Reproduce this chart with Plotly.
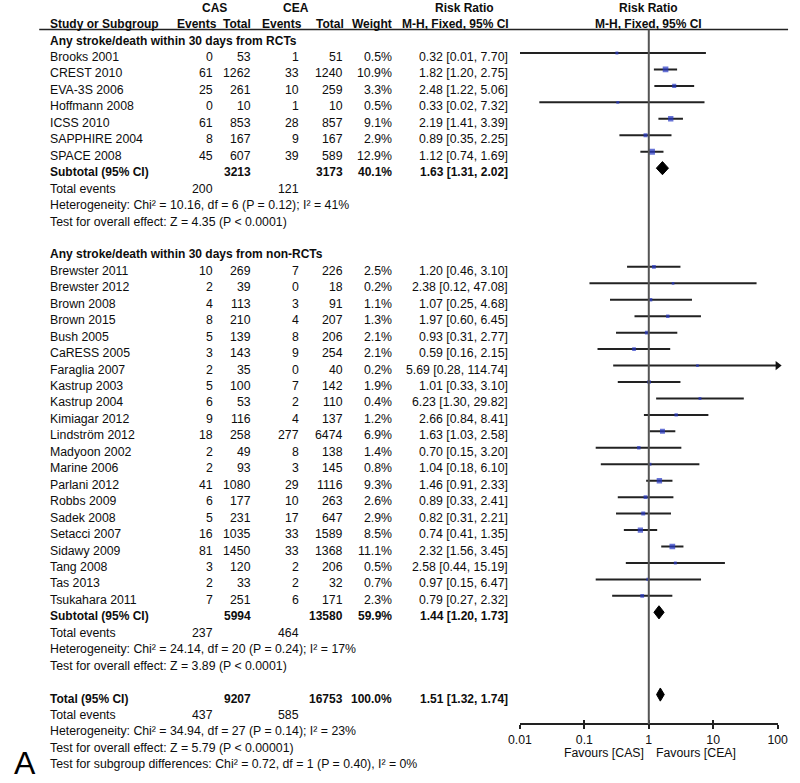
import math
import plotly.graph_objects as go

# ---------------- data ----------------
rct_study = ["Brooks 2001", "CREST 2010", "EVA-3S 2006", "Hoffmann 2008", "ICSS 2010",
             "SAPPHIRE 2004", "SPACE 2008"]
rct_cas_events = [0, 61, 25, 0, 61, 8, 45]
rct_cas_total = [53, 1262, 261, 10, 853, 167, 607]
rct_cea_events = [1, 33, 10, 1, 28, 9, 39]
rct_cea_total = [51, 1240, 259, 10, 857, 167, 589]
rct_weight = [0.5, 10.9, 3.3, 0.5, 9.1, 2.9, 12.9]
rct_rr = [0.32, 1.82, 2.48, 0.33, 2.19, 0.89, 1.12]
rct_lo = [0.01, 1.20, 1.22, 0.02, 1.41, 0.35, 0.74]
rct_hi = [7.70, 2.75, 5.06, 7.32, 3.39, 2.25, 1.69]

non_study = ["Brewster 2011", "Brewster 2012", "Brown 2008", "Brown 2015", "Bush 2005",
             "CaRESS 2005", "Faraglia 2007", "Kastrup 2003", "Kastrup 2004", "Kimiagar 2012",
             "Lindström 2012", "Madyoon 2002", "Marine 2006", "Parlani 2012", "Robbs 2009",
             "Sadek 2008", "Setacci 2007", "Sidawy 2009", "Tang 2008", "Tas 2013",
             "Tsukahara 2011"]
non_cas_events = [10, 2, 4, 8, 5, 3, 2, 5, 6, 9, 18, 2, 2, 41, 6, 5, 16, 81, 3, 2, 7]
non_cas_total = [269, 39, 113, 210, 139, 143, 35, 100, 53, 116, 258, 49, 93, 1080, 177, 231,
                 1035, 1450, 120, 33, 251]
non_cea_events = [7, 0, 3, 4, 8, 9, 0, 7, 2, 4, 277, 8, 3, 29, 10, 17, 33, 33, 2, 2, 6]
non_cea_total = [226, 18, 91, 207, 206, 254, 40, 142, 110, 137, 6474, 138, 145, 1116, 263, 647,
                 1589, 1368, 206, 32, 171]
non_weight = [2.5, 0.2, 1.1, 1.3, 2.1, 2.1, 0.2, 1.9, 0.4, 1.2, 6.9, 1.4, 0.8, 9.3, 2.6, 2.9,
              8.5, 11.1, 0.5, 0.7, 2.3]
non_rr = [1.20, 2.38, 1.07, 1.97, 0.93, 0.59, 5.69, 1.01, 6.23, 2.66, 1.63, 0.70, 1.04, 1.46,
          0.89, 0.82, 0.74, 2.32, 2.58, 0.97, 0.79]
non_lo = [0.46, 0.12, 0.25, 0.60, 0.31, 0.16, 0.28, 0.33, 1.30, 0.84, 1.03, 0.15, 0.18, 0.91,
          0.33, 0.31, 0.41, 1.56, 0.44, 0.15, 0.27]
non_hi = [3.10, 47.08, 4.68, 6.45, 2.77, 2.15, 114.74, 3.10, 29.82, 8.41, 2.58, 3.20, 6.10, 2.33,
          2.41, 2.21, 1.35, 3.45, 15.19, 6.47, 2.32]

group_headers = ["Any stroke/death within 30 days from RCTs",
                 "Any stroke/death within 30 days from non-RCTs"]
pooled_label = ["Subtotal (95% CI)", "Subtotal (95% CI)", "Total (95% CI)"]
pooled_cas_total = [3213, 5994, 9207]
pooled_cea_total = [3173, 13580, 16753]
pooled_weight = [40.1, 59.9, 100.0]
pooled_rr = [1.63, 1.44, 1.51]
pooled_lo = [1.31, 1.20, 1.32]
pooled_hi = [2.02, 1.73, 1.74]
events_cas = [200, 237, 437]
events_cea = [121, 464, 585]
heterogeneity = ["Heterogeneity: Chi² = 10.16, df = 6 (P = 0.12); I² = 41%",
                 "Heterogeneity: Chi² = 24.14, df = 20 (P = 0.24); I² = 17%",
                 "Heterogeneity: Chi² = 34.94, df = 27 (P = 0.14); I² = 23%"]
overall_effect = ["Test for overall effect: Z = 4.35 (P < 0.0001)",
                  "Test for overall effect: Z = 3.89 (P < 0.0001)",
                  "Test for overall effect: Z = 5.79 (P < 0.00001)"]
subgroup_test = "Test for subgroup differences: Chi² = 0.72, df = 1 (P = 0.40), I² = 0%"
tick_vals = [0.01, 0.1, 1, 10, 100]
tick_text = ["0.01", "0.1", "1", "10", "100"]
favours = ["Favours [CAS]", "Favours [CEA]"]

# ---------------- layout geometry ----------------
W, H = 800, 783
ROW0_PX, ROW_PX = 53.0, 16.45          # pixel y of first study row, row pitch
TEXT_SHIFT = -4                          # text sits slightly below the CI lines
FONT = "Liberation Sans, Arial, sans-serif"
INK = "#0d0d0d"
REG = 12.3
X_NAME, X_CASE, X_CAST, X_CEAE, X_CEAT, X_W, X_RR = 37, 209, 248, 297, 342, 393, 512
AX_LEFT, AX_RIGHT, AX_Y = 522.3, 787.3, 724

def px_to_row(py):
    return (py - ROW0_PX) / ROW_PX

annotations = []

def txt(px, row, s, anchor="right", bold=False, size=None, yref="y", shift=TEXT_SHIFT):
    if size is None:
        size = 12 if bold else REG
    annotations.append(dict(
        x=px / W, xref="paper", y=row, yref=yref, yshift=shift,
        text=("<b>%s</b>" % s) if bold else s, showarrow=False,
        xanchor=anchor, yanchor="middle",
        font=dict(family=FONT, size=size, color=INK)))

# ---------------- build rows ----------------
groups = [
    (rct_study, rct_cas_events, rct_cas_total, rct_cea_events, rct_cea_total, rct_weight,
     rct_rr, rct_lo, rct_hi),
    (non_study, non_cas_events, non_cas_total, non_cea_events, non_cea_total, non_weight,
     non_rr, non_lo, non_hi),
]

study_rows, study_rr, study_lo, study_hi, study_w = [], [], [], [], []
pooled_rows = []
row = -1
for g, (names, ce, ct, ee, et, wt, rr, lo, hi) in enumerate(groups):
    txt(X_NAME, row, group_headers[g], anchor="left", bold=True)
    row += 1
    for i in range(len(names)):
        txt(X_NAME, row, names[i], anchor="left")
        txt(X_CASE, row, str(ce[i]))
        txt(X_CAST, row, str(ct[i]))
        txt(X_CEAE, row, str(ee[i]))
        txt(X_CEAT, row, str(et[i]))
        txt(X_W, row, "%.1f%%" % wt[i])
        txt(X_RR, row, "%.2f [%.2f, %.2f]" % (rr[i], lo[i], hi[i]))
        study_rows.append(row); study_rr.append(rr[i]); study_lo.append(lo[i])
        study_hi.append(hi[i]); study_w.append(wt[i])
        row += 1
    pooled_rows.append(row)
    txt(X_NAME, row, pooled_label[g], anchor="left", bold=True)
    txt(X_CAST, row, str(pooled_cas_total[g]), bold=True)
    txt(X_CEAT, row, str(pooled_cea_total[g]), bold=True)
    txt(X_W, row, "%.1f%%" % pooled_weight[g], bold=True)
    txt(X_RR, row, "%.2f [%.2f, %.2f]" % (pooled_rr[g], pooled_lo[g], pooled_hi[g]), bold=True)
    row += 1
    txt(X_NAME, row, "Total events", anchor="left")
    txt(X_CASE, row, str(events_cas[g]))
    txt(X_CEAE, row, str(events_cea[g]))
    row += 1
    txt(X_NAME, row, heterogeneity[g], anchor="left"); row += 1
    txt(X_NAME, row, overall_effect[g], anchor="left"); row += 2

pooled_rows.append(row)
txt(X_NAME, row, pooled_label[2], anchor="left", bold=True)
txt(X_CAST, row, str(pooled_cas_total[2]), bold=True)
txt(X_CEAT, row, str(pooled_cea_total[2]), bold=True)
txt(X_W, row, "%.1f%%" % pooled_weight[2], bold=True)
txt(X_RR, row, "%.2f [%.2f, %.2f]" % (pooled_rr[2], pooled_lo[2], pooled_hi[2]), bold=True)
row += 1
txt(X_NAME, row, "Total events", anchor="left")
txt(X_CASE, row, str(events_cas[2]))
txt(X_CEAE, row, str(events_cea[2]))
row += 1
txt(X_NAME, row, heterogeneity[2], anchor="left"); row += 1
txt(X_NAME, row, overall_effect[2], anchor="left"); row += 1
txt(X_NAME, row, subgroup_test, anchor="left"); row += 1

# column headers (pixel based)
r_top, r_sub = px_to_row(8.0), px_to_row(23.5)
txt(208, r_top, "CAS", anchor="center", bold=True, shift=0)
txt(292, r_top, "CEA", anchor="center", bold=True, shift=0)
txt(465, r_top, "Risk Ratio", anchor="center", bold=True, shift=0)
txt(655, r_top, "Risk Ratio", anchor="center", bold=True, shift=0)
txt(X_NAME, r_sub, "Study or Subgroup", anchor="left", bold=True, shift=0)
txt(213, r_sub, "Events", bold=True, shift=0)
txt(X_CAST, r_sub, "Total", bold=True, shift=0)
txt(300, r_sub, "Events", bold=True, shift=0)
txt(343, r_sub, "Total", bold=True, shift=0)
txt(X_W, r_sub, "Weight", bold=True, shift=0)
txt(513, r_sub, "M-H, Fixed, 95% CI", bold=True, shift=0)
txt(655, r_sub, "M-H, Fixed, 95% CI", anchor="center", bold=True, shift=0)

# favours labels (log axis: annotation x is given in log10 units)
fav_y = 1 - 753 / H
annotations.append(dict(x=math.log10(1), xref="x", y=fav_y, yref="paper", text=favours[0],
                        showarrow=False, xanchor="right", yanchor="middle", xshift=-3,
                        font=dict(family=FONT, size=REG, color=INK)))
annotations.append(dict(x=math.log10(1), xref="x", y=fav_y, yref="paper", text=favours[1],
                        showarrow=False, xanchor="left", yanchor="middle", xshift=5,
                        font=dict(family=FONT, size=REG, color=INK)))
# panel letter
annotations.append(dict(x=0, xref="paper", y=0, yref="paper", text="A",
                        showarrow=False, xanchor="left", yanchor="bottom",
                        font=dict(family=FONT, size=32, color="#000000")))

# ---------------- traces ----------------
fig = go.Figure()

XMAX = tick_vals[-1]
cx, cy = [], []
for r, lo, hi in zip(study_rows, study_lo, study_hi):
    cx += [lo, min(hi, XMAX), None]
    cy += [r, r, None]
fig.add_trace(go.Scatter(x=cx, y=cy, mode="lines", line=dict(color="#222222", width=2),
                         hoverinfo="skip", showlegend=False))

fig.add_trace(go.Scatter(x=study_rr, y=study_rows, mode="markers",
                         marker=dict(symbol="square", color="#2637c4",
                                     size=[2.2 + 1.05 * math.sqrt(w) for w in study_w],
                                     line=dict(width=0)),
                         hoverinfo="skip", showlegend=False))

arrow_rows = [r for r, hi in zip(study_rows, study_hi) if hi > XMAX]
if arrow_rows:
    fig.add_trace(go.Scatter(x=[XMAX] * len(arrow_rows), y=arrow_rows, mode="markers",
                             marker=dict(symbol="triangle-right", color="#111111", size=8),
                             cliponaxis=False, hoverinfo="skip", showlegend=False))

HALF = 0.40
for r, est, lo, hi in zip(pooled_rows, pooled_rr, pooled_lo, pooled_hi):
    fig.add_trace(go.Scatter(x=[lo, est, hi, est, lo], y=[r, r - HALF, r, r + HALF, r],
                             mode="lines", fill="toself", fillcolor="#000000",
                             line=dict(color="#000000", width=1),
                             hoverinfo="skip", showlegend=False))

fig.add_trace(go.Scatter(x=[1], y=[None], xaxis="x2", mode="markers", showlegend=False,
                         hoverinfo="skip"))

axis_pos = 1 - AX_Y / H
dom = [AX_LEFT / W, AX_RIGHT / W]
fig.update_layout(
    width=W, height=H, margin=dict(l=0, r=0, t=0, b=0),
    paper_bgcolor="white", plot_bgcolor="white",
    showlegend=False,
    xaxis=dict(type="log", range=[-2, 2], domain=dom, anchor="free", position=axis_pos,
               showgrid=False, zeroline=False, showline=True, linecolor="#222222", linewidth=2,
               ticks="outside", ticklen=4, tickwidth=2, tickcolor="#222222",
               tickvals=tick_vals, ticktext=tick_text,
               tickfont=dict(family=FONT, size=REG, color=INK)),
    xaxis2=dict(type="log", range=[-2, 2], domain=dom, anchor="free", position=axis_pos,
                overlaying="x", showgrid=False, zeroline=False, showline=False,
                ticks="inside", ticklen=4, tickwidth=2, tickcolor="#222222",
                tickvals=tick_vals, showticklabels=False),
    yaxis=dict(range=[px_to_row(H), px_to_row(0)], domain=[0, 1], visible=False,
               showgrid=False, zeroline=False),
    annotations=annotations,
    shapes=[
        dict(type="line", xref="paper", yref="paper", x0=28 / W, x1=798 / W,
             y0=1 - 29.5 / H, y1=1 - 29.5 / H, line=dict(color="#222222", width=1.5)),
        dict(type="line", xref="x", yref="paper", x0=1, x1=1, y0=axis_pos, y1=1 - 29.5 / H,
             line=dict(color="#555555", width=2)),
    ],
)

fig.write_html("out.html", config={"displayModeBar": False},
               post_script="document.body.style.margin='0';document.body.style.overflow='hidden';")
